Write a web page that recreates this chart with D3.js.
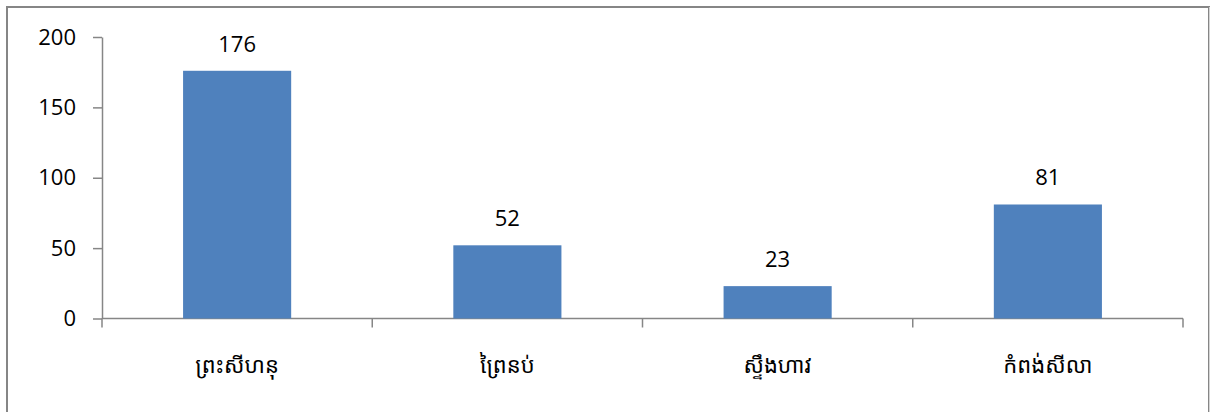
<!DOCTYPE html>
<html>
<head>
<meta charset="utf-8">
<script src="https://cdn.jsdelivr.net/npm/d3@7/dist/d3.min.js"></script>
<style>
  html, body { margin: 0; padding: 0; background: #fff; }
  svg { display: block; }
  .num { font-family: "Open Sans", "Noto Sans", sans-serif; font-size: 22px; fill: #000; }
  .cat { font-family: "Noto Sans Khmer", "Khmer OS System", "Khmer OS", "Noto Sans", sans-serif; font-size: 22px; fill: #000; }
</style>
</head>
<body>
<svg id="chart" width="1210" height="412"></svg>
<script>
// Provinces and their counts
const categories = ["ព្រះសីហនុ", "ព្រៃនប់", "ស្ទឹងហាវ", "កំពង់សីលា"];
const values = [176, 52, 23, 81];
const yTicks = [0, 50, 100, 150, 200];

const W = 1210, H = 412;
const plot = { left: 102, right: 1183, top: 37, bottom: 318.5 };
const axisColor = "#868686";
const barColor = "#4F81BD";

const svg = d3.select("#chart");

// Outer frame (runs off the bottom edge)
svg.append("rect")
  .attr("x", 7).attr("y", 7)
  .attr("width", 1202).attr("height", 430)
  .attr("fill", "none")
  .attr("stroke", axisColor)
  .attr("stroke-width", 2);
svg.append("line")
  .attr("x1", 1209.5).attr("x2", 1209.5).attr("y1", 7).attr("y2", H)
  .attr("stroke", "#d4d4d4").attr("stroke-width", 1);

const x = d3.scaleBand()
  .domain(categories)
  .range([plot.left, plot.right])
  .paddingInner(0.6)
  .paddingOuter(0.3);

const y = d3.scaleLinear()
  .domain([0, 200])
  .range([plot.bottom, plot.top]);

// Y axis
const yAxis = svg.append("g")
  .attr("transform", `translate(${plot.left},0)`)
  .call(d3.axisLeft(y).tickValues(yTicks).tickSize(9).tickSizeOuter(0).tickPadding(17));
yAxis.select(".domain").attr("stroke", axisColor).attr("stroke-width", 1.5);
yAxis.selectAll(".tick line").attr("stroke", axisColor).attr("stroke-width", 1.5);
yAxis.selectAll(".tick text").attr("class", "num");
yAxis.attr("font-family", null).attr("font-size", null);

// X axis: baseline, boundary ticks and category labels
const step = x.step();
const boundaries = categories.map(c => x(c) - step * x.paddingInner() / 2)
  .concat([x(categories[categories.length - 1]) + x.bandwidth() + step * x.paddingInner() / 2]);

svg.append("line")
  .attr("x1", plot.left).attr("x2", boundaries[boundaries.length - 1])
  .attr("y1", y(0)).attr("y2", y(0))
  .attr("stroke", axisColor).attr("stroke-width", 1.5);

svg.selectAll("line.xtick")
  .data(boundaries)
  .join("line")
  .attr("class", "xtick")
  .attr("x1", d => d).attr("x2", d => d)
  .attr("y1", y(0)).attr("y2", y(0) + 9)
  .attr("stroke", axisColor).attr("stroke-width", 1.5);

svg.selectAll("text.cat")
  .data(categories)
  .join("text")
  .attr("class", "cat")
  .attr("x", d => x(d) + x.bandwidth() / 2)
  .attr("y", 373)
  .attr("text-anchor", "middle")
  .text(d => d);

// Bars
const data = categories.map((c, i) => ({ c, v: values[i] }));
svg.selectAll("rect.bar")
  .data(data)
  .join("rect")
  .attr("class", "bar")
  .attr("x", d => x(d.c))
  .attr("width", x.bandwidth())
  .attr("y", d => y(d.v))
  .attr("height", d => y(0) - y(d.v))
  .attr("fill", barColor);

// Value labels
svg.selectAll("text.val")
  .data(data)
  .join("text")
  .attr("class", "num val")
  .attr("x", d => x(d.c) + x.bandwidth() / 2)
  .attr("y", d => y(d.v) - 19)
  .attr("text-anchor", "middle")
  .text(d => d.v);
</script>
</body>
</html>
